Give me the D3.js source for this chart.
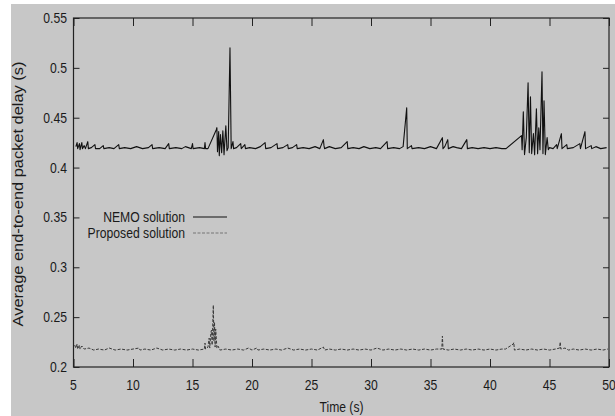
<!DOCTYPE html>
<html>
<head>
<meta charset="utf-8">
<script src="https://cdn.jsdelivr.net/npm/d3@7"></script>
<style>
  html, body { margin: 0; padding: 0; background: #fff; }
  svg { display: block; }
  text { font-family: "Liberation Sans", Arial, Helvetica, sans-serif; fill: #1a1a1a; }
</style>
</head>
<body>
<svg id="chart" width="615" height="416"></svg>
<script>
// Axis ticks
const xTicks = [5, 10, 15, 20, 25, 30, 35, 40, 45, 50];
const yTicks = [0.2, 0.25, 0.3, 0.35, 0.4, 0.45, 0.5, 0.55];

// Series names
const seriesNames = ["NEMO solution", "Proposed solution"];

// NEMO solution: [time (s), delay (s)]
const nemoDelay = [
  [5.2,.421],[5.3,.425],[5.35,.419],[5.5,.424],[5.55,.418],[5.7,.425],[5.75,.419],[5.9,.422],[6.0,.419],
  [6.2,.426],[6.25,.419],[6.5,.420],[6.8,.423],[6.85,.419],[7.2,.419],[7.5,.422],[7.55,.419],[8.0,.420],
  [8.4,.419],[8.8,.423],[8.85,.419],[9.3,.420],[9.8,.419],[10.3,.421],[10.8,.419],[11.3,.420],[11.6,.423],
  [11.65,.419],[12.2,.420],[12.7,.419],[13.0,.424],[13.05,.419],[13.6,.420],[14.1,.419],[14.4,.421],
  [14.9,.419],[15.0,.424],[15.05,.419],[15.6,.420],[16.0,.419],[16.05,.425],[16.1,.419],[16.3,.419],
  [17.0,.438],[17.05,.440],[17.1,.416],[17.2,.436],[17.25,.412],[17.35,.433],[17.45,.415],[17.55,.437],
  [17.65,.413],[17.8,.442],[17.9,.417],[18.0,.420],[18.15,.520],[18.25,.419],[18.4,.426],[18.45,.419],
  [18.7,.420],[19.05,.424],[19.1,.419],[19.4,.423],[19.45,.419],[19.8,.420],[20.3,.419],[20.7,.421],
  [21.1,.425],[21.15,.419],[21.6,.420],[22.1,.424],[22.15,.419],[22.6,.420],[23.0,.423],[23.05,.419],
  [23.4,.420],[23.75,.423],[23.8,.419],[24.3,.420],[24.8,.419],[25.3,.421],[25.7,.419],[26.0,.428],
  [26.05,.422],[26.1,.419],[26.5,.421],[27.0,.419],[27.5,.420],[28.0,.426],[28.05,.419],[28.5,.420],
  [29.0,.419],[29.4,.421],[29.9,.419],[30.4,.420],[30.8,.419],[31.35,.426],[31.4,.419],[31.9,.420],
  [32.4,.419],[32.7,.421],[33.0,.460],[33.05,.419],[33.4,.422],[33.45,.419],[34.0,.420],[34.5,.419],
  [35.0,.421],[35.5,.419],[36.0,.430],[36.05,.419],[36.2,.421],[36.45,.428],[36.5,.419],[36.9,.421],
  [37.2,.420],[37.6,.419],[38.05,.428],[38.1,.419],[38.5,.420],[39.0,.419],[39.5,.420],[40.0,.419],
  [40.5,.420],[41.0,.419],[41.35,.419],[42.65,.432],[42.7,.418],[42.8,.456],[42.9,.413],[43.05,.430],
  [43.2,.485],[43.3,.415],[43.4,.471],[43.5,.414],[43.65,.434],[43.75,.413],[43.9,.459],[44.0,.414],
  [44.1,.440],[44.2,.418],[44.37,.496],[44.45,.414],[44.54,.467],[44.65,.413],[44.8,.430],[44.9,.418],
  [45.0,.420],[45.3,.419],[45.6,.423],[45.65,.419],[46.0,.434],[46.05,.419],[46.45,.423],[46.5,.419],
  [47.0,.420],[47.55,.424],[47.6,.419],[47.98,.436],[48.03,.419],[48.5,.422],[48.55,.419],[48.9,.421],
  [49.3,.419],[49.8,.420]
];

// Proposed solution: [time (s), delay (s)]
const proposedDelay = [
  [5.1,.222],[5.2,.219],[5.3,.223],[5.35,.218],[5.5,.222],[5.55,.218],[5.7,.221],[5.9,.218],[6.3,.219],
  [6.7,.217],[7.1,.218],[7.6,.217],[8.0,.219],[8.5,.217],[9.0,.218],[9.5,.217],[10.0,.218],[10.5,.219],
  [10.6,.217],[11.0,.218],[11.5,.217],[12.0,.219],[12.5,.217],[13.0,.218],[13.5,.217],[14.0,.218],
  [14.5,.217],[15.0,.218],[15.5,.217],[16.0,.218],[16.05,.224],[16.1,.218],[16.3,.220],[16.4,.229],
  [16.45,.219],[16.55,.235],[16.6,.237],[16.65,.222],[16.75,.262],[16.8,.226],[16.85,.245],[16.9,.220],
  [16.95,.238],[17.05,.219],[17.15,.221],[17.3,.217],[17.8,.218],[18.3,.217],[18.8,.218],[19.3,.217],
  [19.7,.219],[20.0,.217],[20.4,.219],[20.5,.217],[21.0,.218],[21.5,.217],[22.0,.218],[22.5,.217],
  [23.0,.219],[23.5,.217],[24.0,.218],[24.5,.217],[25.0,.218],[25.5,.217],[26.0,.220],[26.1,.217],
  [26.5,.218],[27.0,.217],[27.5,.218],[28.0,.217],[28.5,.218],[29.0,.217],[29.5,.218],[30.0,.217],
  [30.5,.219],[31.0,.217],[31.5,.218],[32.0,.217],[32.5,.218],[33.0,.217],[33.5,.218],[34.0,.217],
  [34.5,.218],[35.0,.217],[35.5,.218],[35.95,.218],[36.0,.231],[36.05,.218],[36.5,.217],[37.0,.218],
  [37.5,.217],[38.0,.218],[38.5,.217],[39.0,.218],[39.5,.217],[40.0,.218],[40.5,.217],[41.0,.218],
  [41.3,.218],[41.95,.223],[42.0,.2245],[42.05,.217],[42.5,.218],[43.0,.217],[43.5,.218],[44.0,.217],
  [44.5,.218],[45.0,.217],[45.5,.218],[45.85,.219],[45.9,.225],[45.95,.218],[46.3,.219],[46.6,.217],
  [47.0,.218],[47.5,.217],[48.0,.218],[48.5,.217],[49.0,.218],[49.5,.217],[49.9,.218]
];

const svg = d3.select("#chart");
const W = 615, H = 416;
const plot = { left: 73.5, right: 609, top: 18, bottom: 367 };
const narrow = 0.87;

// Gray canvas, with a thin white margin on the left and top
svg.append("rect").attr("x", 11).attr("y", 4).attr("width", W - 11).attr("height", H - 4)
  .attr("fill", "#c7c7c7");

const x = d3.scaleLinear().domain([5, 50]).range([plot.left, plot.right]);
const y = d3.scaleLinear().domain([0.2, 0.55]).range([plot.bottom, plot.top]);

const fmt = d => String(+d.toFixed(2));

// Axes with inward ticks on all four sides
const axisStyle = g => {
  g.select(".domain").remove();
  g.selectAll(".tick line").attr("stroke", "#222").attr("stroke-width", 1);
  g.selectAll(".tick text").remove();
};
svg.append("g").attr("transform", `translate(0,${plot.bottom})`)
  .call(d3.axisBottom(x).tickValues(xTicks).tickSize(-8)).call(axisStyle);
svg.append("g").attr("transform", `translate(0,${plot.top})`)
  .call(d3.axisTop(x).tickValues(xTicks).tickSize(-8)).call(axisStyle);
svg.append("g").attr("transform", `translate(${plot.left},0)`)
  .call(d3.axisLeft(y).tickValues(yTicks).tickSize(-6)).call(axisStyle);
svg.append("g").attr("transform", `translate(${plot.right},0)`)
  .call(d3.axisRight(y).tickValues(yTicks).tickSize(-6)).call(axisStyle);

// Tick labels (narrow sans)
svg.append("g").selectAll("text").data(xTicks).join("text")
  .attr("transform", d => `translate(${x(d)},390) scale(${narrow},1)`)
  .attr("text-anchor", "middle").attr("font-size", 14).text(d => d);
svg.append("g").selectAll("text").data(yTicks).join("text")
  .attr("transform", d => `translate(67,${y(d) + 5}) scale(${narrow},1)`)
  .attr("text-anchor", "end").attr("font-size", 14).text(fmt);

// Frame
svg.append("rect")
  .attr("x", plot.left).attr("y", plot.top)
  .attr("width", plot.right - plot.left).attr("height", plot.bottom - plot.top)
  .attr("fill", "none").attr("stroke", "#222").attr("stroke-width", 1.2);

// Series lines
const line = d3.line().x(d => x(d[0])).y(d => y(d[1]));
svg.append("path").datum(proposedDelay).attr("d", line)
  .attr("fill", "none").attr("stroke", "#3a3a3a").attr("stroke-width", 1)
  .attr("stroke-dasharray", "3,1.5");
svg.append("path").datum(nemoDelay).attr("d", line)
  .attr("fill", "none").attr("stroke", "#111").attr("stroke-width", 1.1)
  .attr("stroke-linejoin", "round");

// Legend
const legend = svg.append("g");
const legendRows = [
  { name: seriesNames[0], y: 217, dash: null, color: "#111" },
  { name: seriesNames[1], y: 233, dash: "3,1.5", color: "#777" }
];
legendRows.forEach(r => {
  legend.append("text")
    .attr("transform", `translate(185,${r.y + 5}) scale(${narrow},1)`)
    .attr("text-anchor", "end").attr("font-size", 14).text(r.name);
  legend.append("line")
    .attr("x1", 193).attr("x2", 227).attr("y1", r.y).attr("y2", r.y)
    .attr("stroke", r.color).attr("stroke-width", 1.1)
    .attr("stroke-dasharray", r.dash);
});

// Axis titles
const xTitle = svg.append("text").attr("text-anchor", "middle").attr("font-size", 15)
  .text("Time (s)");
const xLen = xTitle.node().getComputedTextLength();
xTitle.attr("transform", `translate(341.5,412) scale(${44 / xLen},1)`);

const yTitle = svg.append("text").attr("text-anchor", "middle").attr("font-size", 14)
  .text("Average end-to-end packet delay (s)");
const yLen = yTitle.node().getComputedTextLength();
yTitle.attr("transform", `translate(23,194) rotate(-90) scale(${265 / yLen},1)`);
</script>
</body>
</html>
